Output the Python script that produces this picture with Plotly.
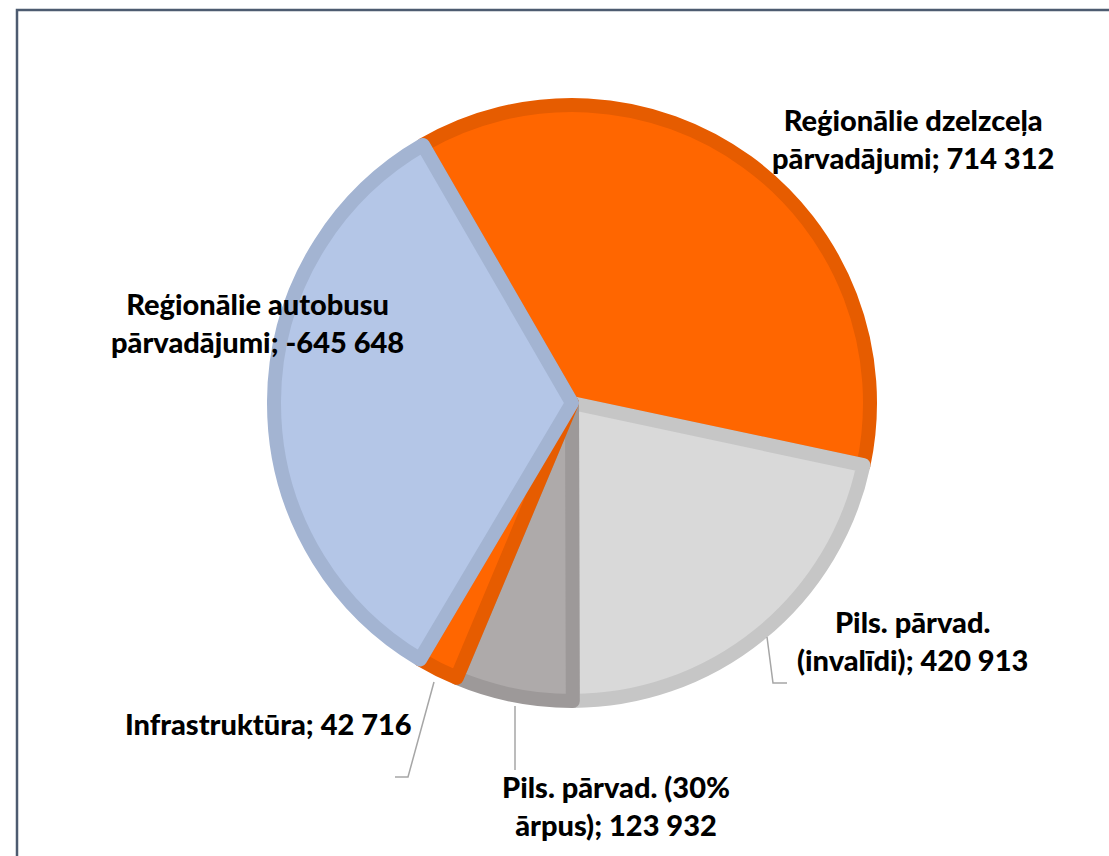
import numpy as np
import plotly.graph_objects as go

categories = [
    "Reģionālie dzelzceļa pārvadājumi",
    "Pils. pārvad. (invalīdi)",
    "Pils. pārvad. (30% ārpus)",
    "Infrastruktūra",
    "Reģionālie autobusu pārvadājumi",
]
values = [714312, 420913, 123932, 42716, -645648]
fill_colors = ["#FF6600", "#D9D9D9", "#AEAAAA", "#FF6600", "#B4C6E7"]
border_colors = ["#E65C00", "#C6C6C6", "#9D9999", "#E65C00", "#A3B4D2"]

# label line breaks as in the reference
label_lines = [
    ["Reģionālie dzelzceļa", "pārvadājumi"],
    ["Pils. pārvad.", "(invalīdi)"],
    ["Pils. pārvad. (30%", "ārpus)"],
    ["Infrastruktūra"],
    ["Reģionālie autobusu", "pārvadājumi"],
]
# label centres (pixels) and leader lines (pixels)
label_pos = [(913, 138), (912, 640), (616, 805), (268, 723), (257, 323)]
leaders = [
    None,
    [(767, 637), (773, 683), (787, 683)],
    [(515, 706), (515, 770)],
    [(434, 682), (408, 777), (395, 777)],
    None,
]

W, H = 1109, 856
cx, cy, r = 572, 403, 298


def fmt(v):
    return f"{v:,}".replace(",", " ")


fig = go.Figure()
fig.add_trace(go.Pie(
    labels=categories,
    values=np.abs(values),
    sort=False,
    direction="clockwise",
    rotation=-30,
    marker=dict(colors=fill_colors, line=dict(color=border_colors, width=14)),
    textinfo="none",
    hoverinfo="skip",
    showlegend=False,
    domain=dict(x=[(cx - r) / W, (cx + r) / W], y=[1 - (cy + r) / H, 1 - (cy - r) / H]),
))

annotations = []
for lines, v, (x, y) in zip(label_lines, values, label_pos):
    if len(lines) == 1:
        txt = f"{lines[0]}; {fmt(v)}"
    else:
        txt = f"{lines[0]}<br>{lines[1]}; {fmt(v)}"
    annotations.append(dict(
        x=x / W, y=1 - y / H, xref="paper", yref="paper",
        text=txt, showarrow=False, xanchor="center", yanchor="middle",
        align="center",
        font=dict(family="Lato", size=29, color="#000000", weight=900),
    ))

shapes = []
for pts in leaders:
    if not pts:
        continue
    path = "M " + " L ".join(f"{px / W},{1 - py / H}" for px, py in pts)
    shapes.append(dict(type="path", xref="paper", yref="paper", path=path,
                       line=dict(color="#A6A6A6", width=1.5)))
# chart frame
shapes.append(dict(type="rect", xref="paper", yref="paper",
                   x0=17 / W, x1=1.05, y0=-0.05, y1=1 - 10 / H,
                   line=dict(color="#4D5B70", width=2.5), fillcolor="rgba(0,0,0,0)"))

fig.update_layout(
    width=W, height=H,
    margin=dict(l=0, r=0, t=0, b=0),
    paper_bgcolor="#FFFFFF",
    plot_bgcolor="#FFFFFF",
    annotations=annotations,
    shapes=shapes,
)

fig.write_html("out.html", config={"displayModeBar": False},
               post_script="document.body.style.margin='0';")
